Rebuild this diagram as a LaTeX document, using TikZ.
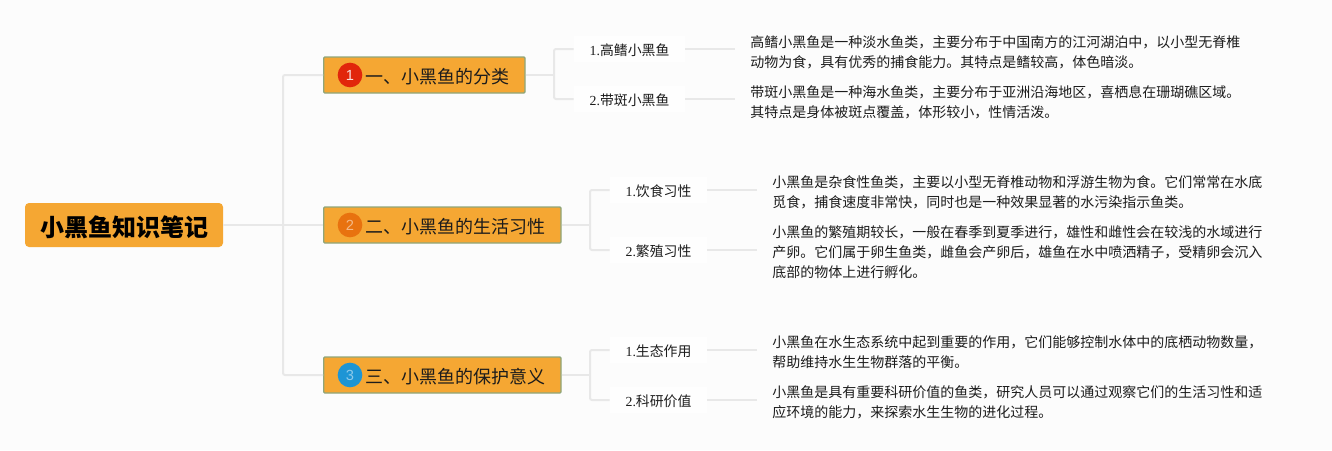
\documentclass[tikz,border=0pt]{standalone}
\usepackage{fontspec}
\setmainfont{Noto Sans CJK SC}
\newfontfamily\numfont{Liberation Serif}
\newfontfamily\iconfont{Liberation Sans}
\usetikzlibrary{calc,positioning}
\definecolor{paper}{HTML}{FCFCFC}
\definecolor{wire}{HTML}{E8E8E8}
\definecolor{amber}{HTML}{F5A733}
\definecolor{edge}{HTML}{8FA67A}
\definecolor{ink}{HTML}{1C1C1C}
\definecolor{iconred}{HTML}{E1260B}
\definecolor{iconorange}{HTML}{E8720F}
\definecolor{iconblue}{HTML}{1D95D5}
\tikzset{
  link/.style={draw=wire, line width=1.5pt, rounded corners=1.5pt},
  rootbox/.style={fill=amber, rounded corners=3pt, minimum width=148.5pt, minimum height=33pt, text height=18pt, text depth=1.3pt, text=black, font=\fontsize{18}{22}\selectfont\bfseries},
  topic/.style={draw=edge, fill=amber, line width=1pt, rounded corners=0.8pt, anchor=west, minimum height=27pt, inner xsep=11.5pt, inner ysep=0pt, text height=14pt, text depth=0.7pt, text=ink, font=\fontsize{13.5}{16}\selectfont},
  icon/.style={circle, minimum size=18.5pt, inner sep=0pt, font=\iconfont\fontsize{11}{12}\selectfont},
  sub/.style={fill=paper!40!white, inner sep=0pt, minimum height=19pt, text height=11pt, text depth=1pt, text=ink, font=\fontsize{10.4}{14}\selectfont},
  desc/.style={anchor=west, align=left, inner xsep=11.25pt, inner ysep=0pt, text=ink, font=\fontsize{10.5}{15}\selectfont},
}
\begin{document}
\begin{tikzpicture}[x=0.75pt,y=-0.75pt]
  \fill[paper] (0,0) rectangle (1332,450);
  \useasboundingbox (0,0) rectangle (1332,450);
  \coordinate (trunk) at (283,225);
  \coordinate (fork1) at (554,75);
  \coordinate (fork2) at (590,225);
  \coordinate (fork3) at (590,375);
  % main branches
  \node[rootbox] (root) at (124,225) {小黑鱼知识笔记};
  \node[topic] (box1) at (323,75) {\hspace*{20pt}一、小黑鱼的分类};
  \node[topic] (box2) at (323,225) {\hspace*{20pt}二、小黑鱼的生活习性};
  \node[topic] (box3) at (323,375) {\hspace*{20pt}三、小黑鱼的保护意义};
  \node[icon, fill=iconred, text=white!85!iconred] (ico1) at (350,75) {1};
  \node[icon, fill=iconorange, text=iconorange!50!white] (ico2) at (350,225) {2};
  \node[icon, fill=iconblue, text=iconblue!50!white] (ico3) at (350,375) {3};
  % sub items
  \node[sub, minimum width=83.25pt] (lab11) at (629.5,49) {{\numfont 1.}高鳍小黑鱼};
  \node[sub, minimum width=83.25pt] (lab12) at (629.5,99) {{\numfont 2.}带斑小黑鱼};
  \node[sub, minimum width=72.75pt] (lab21) at (658.5,190) {{\numfont 1.}饮食习性};
  \node[sub, minimum width=72.75pt] (lab22) at (658.5,250) {{\numfont 2.}繁殖习性};
  \node[sub, minimum width=72.75pt] (lab31) at (658.5,350) {{\numfont 1.}生态作用};
  \node[sub, minimum width=72.75pt] (lab32) at (658.5,400) {{\numfont 2.}科研价值};
  % descriptions
  \node[desc] (txt11) at (735,52) {高鳍小黑鱼是一种淡水鱼类，主要分布于中国南方的江河湖泊中，以小型无脊椎\\动物为食，具有优秀的捕食能力。其特点是鳍较高，体色暗淡。};
  \node[desc] (txt12) at (735,102) {带斑小黑鱼是一种海水鱼类，主要分布于亚洲沿海地区，喜栖息在珊瑚礁区域。\\其特点是身体被斑点覆盖，体形较小，性情活泼。};
  \node[desc] (txt21) at (757,192) {小黑鱼是杂食性鱼类，主要以小型无脊椎动物和浮游生物为食。它们常常在水底\\觅食，捕食速度非常快，同时也是一种效果显著的水污染指示鱼类。};
  \node[desc] (txt22) at (757,252) {小黑鱼的繁殖期较长，一般在春季到夏季进行，雄性和雌性会在较浅的水域进行\\产卵。它们属于卵生鱼类，雌鱼会产卵后，雄鱼在水中喷洒精子，受精卵会沉入\\底部的物体上进行孵化。};
  \node[desc] (txt31) at (757,352) {小黑鱼在水生态系统中起到重要的作用，它们能够控制水体中的底栖动物数量，\\帮助维持水生生物群落的平衡。};
  \node[desc] (txt32) at (757,402) {小黑鱼是具有重要科研价值的鱼类，研究人员可以通过观察它们的生活习性和适\\应环境的能力，来探索水生生物的进化过程。};
  % connectors
  \draw[link] (root.east) -- (box2.west);
  \draw[link] (box1.west) -| (trunk) |- (box3.west);
  \draw[link] (box1.east) -- (fork1);
  \draw[link] (box2.east) -- (fork2);
  \draw[link] (box3.east) -- (fork3);
  \draw[link] (lab11.west) -| (fork1) |- (lab12.west);
  \draw[link] (lab21.west) -| (fork2) |- (lab22.west);
  \draw[link] (lab31.west) -| (fork3) |- (lab32.west);
  \draw[link] (lab11.east) -- (lab11.east -| txt11.west);
  \draw[link] (lab12.east) -- (lab12.east -| txt12.west);
  \draw[link] (lab21.east) -- (lab21.east -| txt21.west);
  \draw[link] (lab22.east) -- (lab22.east -| txt22.west);
  \draw[link] (lab31.east) -- (lab31.east -| txt31.west);
  \draw[link] (lab32.east) -- (lab32.east -| txt32.west);
\end{tikzpicture}
\end{document}
